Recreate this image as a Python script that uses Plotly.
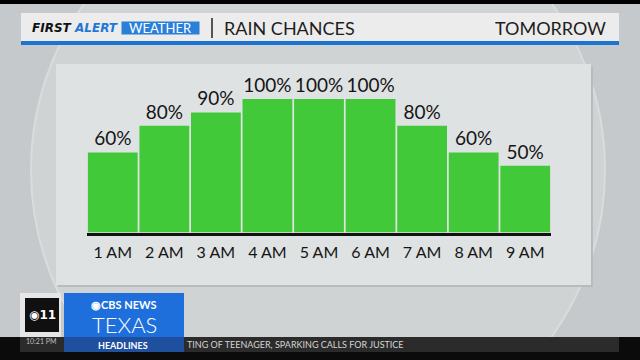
import plotly.graph_objects as go

hours = ["1 AM", "2 AM", "3 AM", "4 AM", "5 AM", "6 AM", "7 AM", "8 AM", "9 AM"]
chances = [60, 80, 90, 100, 100, 100, 80, 60, 50]
labels = [f"{v}%" for v in chances]

W, H = 640, 360
def px(x): return x / W
def py(y): return 1 - y / H

FONT = "Lato"
GREEN = "#42c93a"
BLUE = "#1f78d6"

fig = go.Figure(go.Bar(
    x=hours, y=chances, text=labels, textposition="outside",
    textfont=dict(family=FONT, size=19, color="#151515"),
    marker=dict(color=GREEN, line=dict(width=0)),
    cliponaxis=False, hoverinfo="skip",
))

shapes = []
def rect(x0, y0, x1, y1, fill, line=None, lw=0):
    shapes.append(dict(type="rect", xref="paper", yref="paper",
                       x0=px(x0), x1=px(x1), y0=py(y1), y1=py(y0),
                       fillcolor=fill, line=dict(width=lw, color=line or fill),
                       layer="below"))

# background disk
shapes.append(dict(type="circle", xref="paper", yref="paper",
                   x0=px(31), x1=px(605), y0=py(457), y1=py(-117),
                   fillcolor="#d0d3d4", line=dict(width=2, color="#d9dcdd"), layer="below"))
# top black band
rect(0, 0, 640, 4, "#000000")
# header strip
rect(21, 13, 619, 41, "#ececec")
rect(21, 41, 619, 45, "#1c74d2")
rect(121.5, 21.5, 199.5, 34.5, "#2a80d8")
shapes.append(dict(type="line", xref="paper", yref="paper",
                   x0=px(212), x1=px(212), y0=py(38), y1=py(18),
                   line=dict(width=1.5, color="#222222")))
# panel
rect(58, 66, 593, 287, "#b9bcbe")
rect(56, 64, 591, 285, "#dfe2e3")
# bottom bands
rect(0, 337, 640, 360, "#0b0b0b")
rect(20, 337, 619, 352, "#2b2b2b")
# logo
rect(20, 293, 61, 337, "#e6e6e6")
rect(25, 298, 59, 332, "#101010")
# CBS box
rect(64, 293, 184, 337, "#1e6fdc")
rect(64, 337, 184, 352, "#1f4f9f")

ann = []
def text(x, y, s, size, color, anchor="center", weight="normal", style="normal", family=FONT):
    ann.append(dict(xref="paper", yref="paper", x=px(x), y=py(y), text=s,
                    showarrow=False, xanchor=anchor, yanchor="middle",
                    font=dict(family=family, size=size, color=color, weight=weight, style=style)))

text(30, 28, "FIRST", 12, "#111111", "left", "bold", "italic", family="DejaVu Sans")
text(72, 28, "ALERT", 12, BLUE, "left", "bold", "italic", family="DejaVu Sans")
text(160.5, 28, "WEATHER", 13, "#ffffff", "center")
text(222, 28, "RAIN CHANCES", 18, "#1e1e1e", "left")
text(608, 28, "TOMORROW", 18, "#1e1e1e", "right")

text(42, 315, "◉11", 12, "#ffffff", "center", "bold", family="DejaVu Sans")
text(41, 341, "10:21 PM", 7, "#bdbdbd", "center")
text(124, 304, "◉CBS NEWS", 11, "#ffffff", "center", "bold")
text(124, 324, "TEXAS", 22, "#ffffff", "center", 300)
text(123, 345, "HEADLINES", 9, "#ffffff", "center", "bold")
text(185, 344.5, "TING OF TEENAGER, SPARKING CALLS FOR JUSTICE", 9, "#d4d4d4", "left")

fig.update_layout(
    width=W, height=H, margin=dict(l=0, r=0, t=0, b=0),
    paper_bgcolor="#c6c9cb", plot_bgcolor="rgba(0,0,0,0)",
    bargap=0.034, showlegend=False,
    shapes=shapes, annotations=ann,
    xaxis=dict(domain=[px(87), px(551)], showgrid=False, zeroline=False,
               showline=True, linewidth=3, linecolor="#111111",
               ticks="outside", ticklen=0, ticklabelstandoff=3,
               tickfont=dict(family=FONT, size=16, color="#151515"),
               fixedrange=True),
    yaxis=dict(domain=[py(232.5), py(59)], range=[0, 130], visible=False,
               fixedrange=True),
)

fig.write_html("out.html")
